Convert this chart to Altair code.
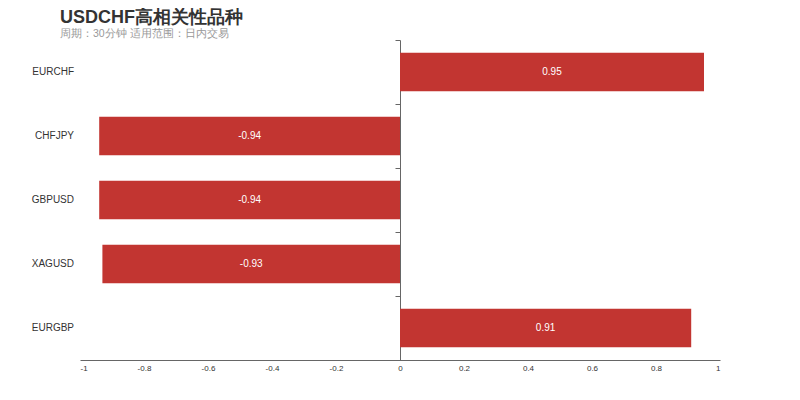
import altair as alt
import pandas as pd

symbols = ["EURCHF", "CHFJPY", "GBPUSD", "XAGUSD", "EURGBP"]
values = [0.95, -0.94, -0.94, -0.93, 0.91]
value_labels = ["0.95", "-0.94", "-0.94", "-0.93", "0.91"]
x_ticks = [-1, -0.8, -0.6, -0.4, -0.2, 0, 0.2, 0.4, 0.6, 0.8, 1]

df = pd.DataFrame({"symbol": symbols, "value": values, "label": value_labels})
df["mid"] = df["value"] / 2

font = "Liberation Sans"

y_enc = alt.Y(
    "symbol:N",
    sort=symbols,
    scale=alt.Scale(paddingInner=0.4, paddingOuter=0.2),
    axis=alt.Axis(
        offset=-320, labels=False, title=None, ticks=True, tickSize=5,
        bandPosition=0, tickOffset=-12.8,
        domainColor="#666666", tickColor="#666666", grid=False,
    ),
)

x_scale = alt.Scale(domain=[-1, 1], nice=False)

bars = alt.Chart(df).mark_bar(color="#c23531").encode(
    x=alt.X(
        "value:Q",
        scale=x_scale,
        axis=alt.Axis(
            values=x_ticks, ticks=False, grid=False, title=None,
            domainColor="#666666", labelFontSize=8, labelColor="#333333",
            labelFont=font, labelPadding=4,
            labelExpr="datum.value < 0 ? '-' + format(-datum.value, '~g') : format(datum.value, '~g')",
        ),
    ),
    x2=alt.datum(0),
    y=y_enc,
)

vals = alt.Chart(df).mark_text(color="white", fontSize=10, font=font).encode(
    x=alt.X("mid:Q", scale=x_scale),
    y=alt.Y("symbol:N", sort=symbols),
    text="label:N",
)

cats = alt.Chart(df).mark_text(color="#333333", fontSize=10, font=font, align="right", dx=-6).encode(
    x=alt.value(0),
    y=alt.Y("symbol:N", sort=symbols),
    text="symbol:N",
)

chart = alt.layer(bars, vals, cats).properties(
    width=640,
    height=320,
    autosize=alt.AutoSizeParams(type="none"),
    padding={"left": 72, "top": 32, "right": 72, "bottom": 32},
    title=alt.TitleParams(
        text="USDCHF高相关性品种",
        subtitle="周期：30分钟 适用范围：日内交易",
        anchor="start",
        frame="group",
        dx=-20,
        fontSize=18,
        fontWeight="bold",
        color="#333333",
        font=font,
        subtitleFont=font,
        subtitleFontSize=10.5,
        subtitleColor="#999999",
        subtitlePadding=2,
        offset=0,
    ),
).configure_view(stroke=None)

chart.save("out.html", embed_options={"renderer": "svg", "actions": False})
